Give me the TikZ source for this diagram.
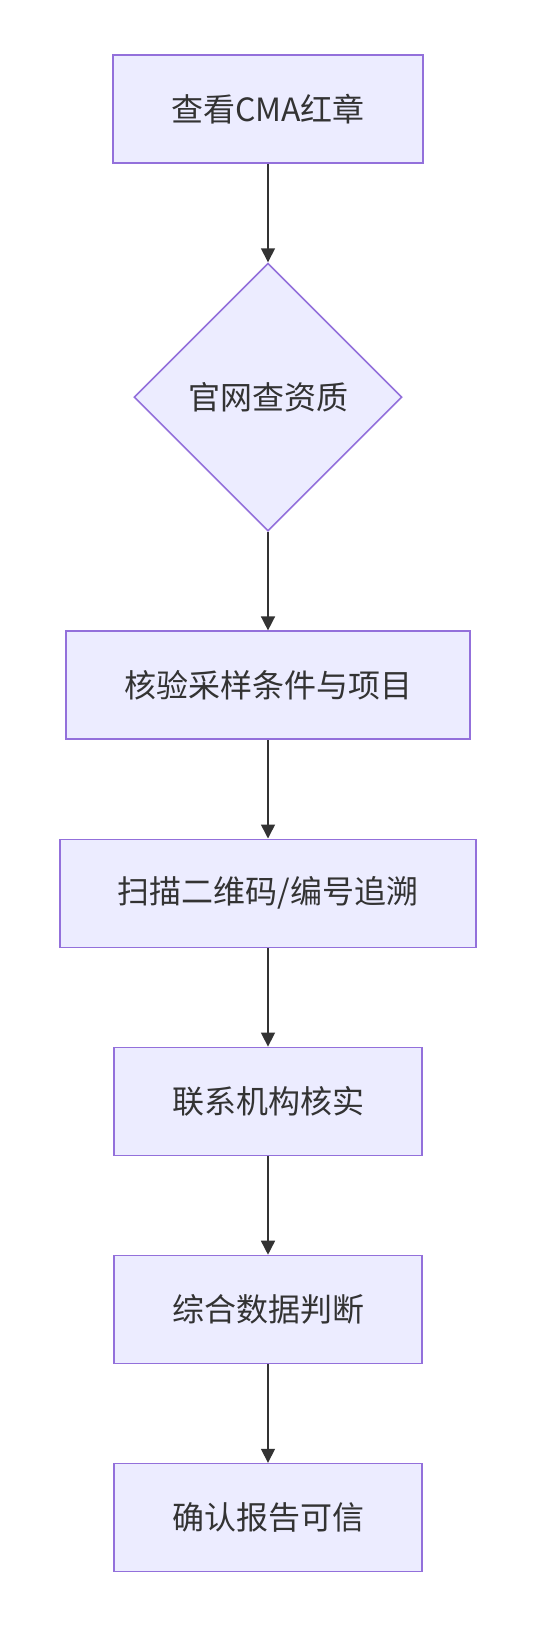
\documentclass[tikz,border=0pt]{standalone}
\usepackage{fontspec}
\newfontfamily\cjk{Noto Sans CJK SC}
\usepackage{xcolor}
\usepackage{tikz}
\usetikzlibrary{positioning,shapes.geometric,arrows.meta}
\definecolor{boxfill}{HTML}{ECECFF}
\definecolor{boxline}{HTML}{9370DB}
\definecolor{ink}{HTML}{333333}

\begin{document}
\begin{tikzpicture}[node distance=98.5pt,
  stepbox/.style={draw=boxline, fill=boxfill, line width=1.6pt, text=ink,
    font=\cjk\fontsize{32}{40}\selectfont, inner xsep=58pt, inner ysep=0pt,
    minimum height=108pt},
  choice/.style={diamond, draw=boxline, fill=boxfill, line width=1.6pt, text=ink,
    font=\cjk\fontsize{32}{40}\selectfont, aspect=1, inner sep=0pt,
    minimum width=268pt, minimum height=268pt},
  flow/.style={-{Triangle[length=14pt,width=14pt]}, draw=ink, line width=1.5pt}]
\useasboundingbox (0,0) rectangle (536pt,-1628pt);
\node[stepbox] (cma) at (268pt,-109pt) {查看CMA红章};
\node[choice, below=of cma] (site) {官网查资质};
\node[stepbox, below=of site] (check) {核验采样条件与项目};
\node[stepbox, below=of check] (scan) {扫描二维码/编号追溯};
\node[stepbox, below=of scan] (contact) {联系机构核实};
\node[stepbox, below=of contact] (data) {综合数据判断};
\node[stepbox, below=of data] (trust) {确认报告可信};
\draw[flow] (cma) -- (site);
\draw[flow] (site) -- (check);
\draw[flow] (check) -- (scan);
\draw[flow] (scan) -- (contact);
\draw[flow] (contact) -- (data);
\draw[flow] (data) -- (trust);
\end{tikzpicture}
\end{document}
